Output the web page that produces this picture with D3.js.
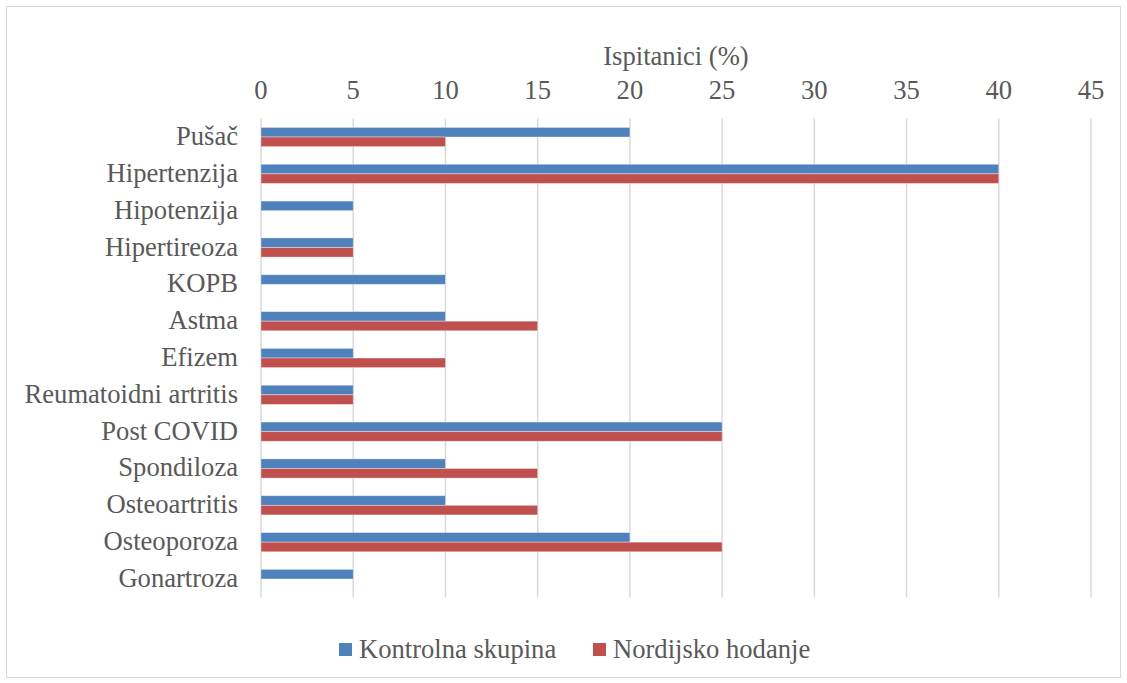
<!DOCTYPE html>
<html>
<head>
<meta charset="utf-8">
<script src="https://cdn.jsdelivr.net/npm/d3@7"></script>
<style>
  body { margin: 0; background: #fff; }
</style>
</head>
<body>
<svg width="1127" height="683"></svg>
<script>
const categories = ["Pušač", "Hipertenzija", "Hipotenzija", "Hipertireoza", "KOPB", "Astma", "Efizem",
    "Reumatoidni artritis", "Post COVID", "Spondiloza", "Osteoartritis", "Osteoporoza", "Gonartroza"];
const kontrolna = [20, 40, 5, 5, 10, 10, 5, 5, 25, 10, 10, 20, 5];
const nordijsko = [10, 40, 0, 5, 0, 15, 10, 5, 25, 15, 15, 25, 0];
const seriesNames = ["Kontrolna skupina", "Nordijsko hodanje"];
const ticks = d3.range(0, 50, 5);

const svg = d3.select("svg");
const font = "'Liberation Serif', 'Times New Roman', serif";
const fontSize = 26.6;
const textColor = "#595959";
const colors = ["#4f81bd", "#c0504d"];

// chart frame
svg.append("rect")
    .attr("x", 6.5).attr("y", 6.5)
    .attr("width", 1114).attr("height", 671)
    .attr("fill", "#fff")
    .attr("stroke", "#d9d9d9");

const x = d3.scaleLinear().domain([0, 45]).range([261, 1091]);
const y = d3.scaleBand().domain(categories).range([118.6, 597.4]);

// gridlines
svg.append("g")
    .selectAll("line")
    .data(ticks)
    .enter().append("line")
    .attr("x1", d => x(d)).attr("x2", d => x(d))
    .attr("y1", y.range()[0]).attr("y2", y.range()[1])
    .attr("stroke", "#d9d9d9")
    .attr("stroke-width", 1.5);

// tick labels on top
svg.append("g")
    .selectAll("text")
    .data(ticks)
    .enter().append("text")
    .attr("x", d => x(d))
    .attr("y", 99)
    .attr("text-anchor", "middle")
    .attr("font-family", font)
    .attr("font-size", fontSize)
    .attr("fill", textColor)
    .text(d => d);

svg.append("text")
    .attr("x", 676).attr("y", 65)
    .attr("text-anchor", "middle")
    .attr("font-family", font)
    .attr("font-size", fontSize)
    .attr("fill", textColor)
    .text("Ispitanici (%)");

// category labels
svg.append("g")
    .selectAll("text")
    .data(categories)
    .enter().append("text")
    .attr("x", 238)
    .attr("y", d => y(d) + y.bandwidth() / 2 + 8)
    .attr("text-anchor", "end")
    .attr("font-family", font)
    .attr("font-size", fontSize)
    .attr("fill", textColor)
    .text(d => d);

// bars
const barH = 9.6;
[kontrolna, nordijsko].forEach((vals, s) => {
    svg.append("g")
        .selectAll("rect")
        .data(vals)
        .enter().append("rect")
        .attr("x", x(0))
        .attr("y", (d, i) => y(categories[i]) + y.bandwidth() / 2 - barH + s * barH)
        .attr("width", d => x(d) - x(0))
        .attr("height", barH)
        .attr("fill", colors[s])
        .attr("stroke", d => d > 0 ? "rgba(255,255,255,0.45)" : "none")
        .attr("stroke-width", 0.8);
});

// legend
const legendX = [339, 593];
seriesNames.forEach((name, s) => {
    svg.append("rect")
        .attr("x", legendX[s]).attr("y", 643)
        .attr("width", 13).attr("height", 13)
        .attr("fill", colors[s]);
    svg.append("text")
        .attr("x", legendX[s] + 20).attr("y", 658)
        .attr("font-family", font)
        .attr("font-size", fontSize)
        .attr("fill", textColor)
        .text(name);
});
</script>
</body>
</html>
